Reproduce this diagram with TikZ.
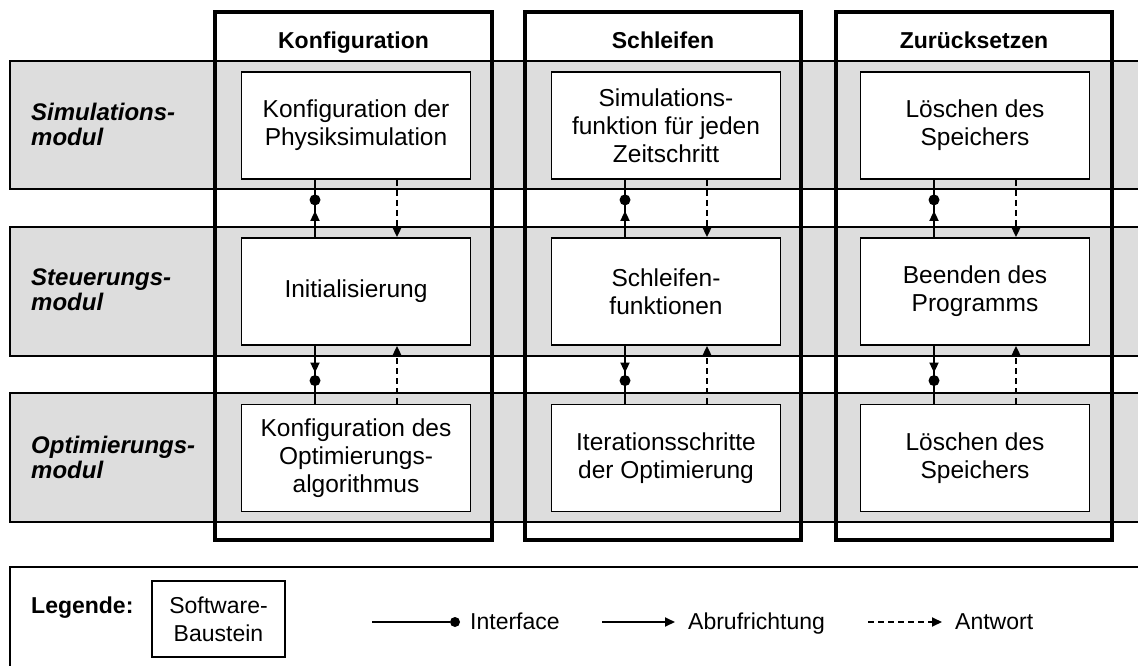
\documentclass[tikz,border=0pt]{standalone}
\usepackage{fontspec}
\setmainfont{Liberation Sans}
\usetikzlibrary{arrows.meta,calc}
\definecolor{bandgray}{RGB}{221,221,221}
\begin{document}
\begin{tikzpicture}[x=1pt,y=-1pt,
  txt/.style={font=\fontsize{24.5}{28}\selectfont, align=center},
  modbox/.style={draw, line width=1.8pt, fill=white, minimum width=229pt, minimum height=107pt, inner sep=0pt, txt},
  band/.style={draw, line width=1.6pt, fill=bandgray},
  colframe/.style={draw, line width=3.8pt},
  head/.style={font=\fontsize{23}{28}\selectfont\bfseries, inner sep=0pt, anchor=base},
  rowlabel/.style={font=\fontsize{24}{25}\selectfont\bfseries\itshape, align=left, anchor=west, inner sep=0pt},
  plain/.style={line width=1.8pt},
  call/.style={line width=1.8pt, -{Triangle[length=10pt,width=9pt]}},
  resp/.style={line width=1.8pt, dash pattern=on 6pt off 4pt, -{Triangle[length=10pt,width=9pt]}},
  dot/.style={circle, fill=black, inner sep=0pt, minimum size=11pt},
  legtxt/.style={font=\fontsize{23}{28}\selectfont, inner sep=0pt, anchor=base west},
]
\useasboundingbox (0,0) rectangle (1138,666);
\clip (0,0) rectangle (1138,666);
\fill[white] (0,0) rectangle (1138,666);

% bands
\path[band] (10,61) rectangle (1160,189);
\path[band] (10,227) rectangle (1160,356);
\path[band] (10,393) rectangle (1160,522);

% row labels
\node[rowlabel] (lsim) at (31,124) {Simulations-\\modul};
\node[rowlabel] (lst) at (31,290) {Steuerungs-\\modul};
\node[rowlabel] (lopt) at (31,457) {Optimierungs-\\modul};

% column frames
\path[colframe] (215,12) rectangle (492,540);
\path[colframe] (525,12) rectangle (801,540);
\path[colframe] (836,12) rectangle (1112,540);

% headers
\node[head] (h1) at (353.5,49) {Konfiguration};
\node[head] (h2) at (663,49) {Schleifen};
\node[head] (h3) at (974,49) {Zurücksetzen};

% module boxes
\node[modbox] (t1) at (356,125.5) {Konfiguration der\\Physiksimulation};
\node[modbox] (m1) at (356,291.5) {Initialisierung};
\node[modbox] (b1) at (356,458) {Konfiguration des\\Optimierungs-\\algorithmus};

\node[modbox] (t2) at (666,125.5) {Simulations-\\funktion für jeden\\Zeitschritt};
\node[modbox] (m2) at (666,291.5) {Schleifen-\\funktionen};
\node[modbox] (b2) at (666,458) {Iterationsschritte\\der Optimierung};

\node[modbox] (t3) at (975,125.5) {Löschen des\\Speichers};
\node[modbox] (m3) at (975,291.5) {Beenden des\\Programms};
\node[modbox] (b3) at (975,458) {Löschen des\\Speichers};

% connectors
\foreach \i in {1,2,3}{
  \node[dot] (dt\i) at ([xshift=-41pt,yshift=-20pt]t\i.south) {};
  \node[dot] (db\i) at ([xshift=-41pt,yshift=23pt]b\i.north) {};
  \draw[plain] ([xshift=-41pt]m\i.north) -- ([xshift=-41pt]t\i.south);
  \draw[call] ([xshift=-41pt]m\i.north) -- ([yshift=-11pt]dt\i.center);
  \draw[plain] ([xshift=-41pt]m\i.south) -- ([xshift=-41pt]b\i.north);
  \draw[call] ([xshift=-41pt]m\i.south) -- ([yshift=8pt]db\i.center);
  \draw[resp] ([xshift=41pt]t\i.south) -- ([xshift=41pt]m\i.north);
  \draw[resp] ([xshift=41pt]b\i.north) -- ([xshift=41pt]m\i.south);
}

% legend
\path[draw, line width=1.8pt] (10,567) rectangle (1160,700);
\node[font=\fontsize{23}{28}\selectfont\bfseries, inner sep=0pt, anchor=base west] (leg) at (31,613) {Legende:};
\node[modbox, font=\fontsize{23}{28}\selectfont, minimum width=133pt, minimum height=76pt] (sw) at (218.5,619) {Software-\\Baustein};
\coordinate (i0) at (372,622);
\node[dot, minimum size=10pt] (i1) at (455,622) {};
\draw[plain] (i0) -- (i1);
\node[legtxt] (it) at (470,629) {Interface};
\coordinate (a0) at (602,622);
\coordinate (a1) at (675,622);
\draw[call] (a0) -- (a1);
\node[legtxt] (at) at (688,629) {Abrufrichtung};
\coordinate (r0) at (868,622);
\coordinate (r1) at (942,622);
\draw[resp] (r0) -- (r1);
\node[legtxt] (rt) at (955,629) {Antwort};
\end{tikzpicture}
\end{document}
